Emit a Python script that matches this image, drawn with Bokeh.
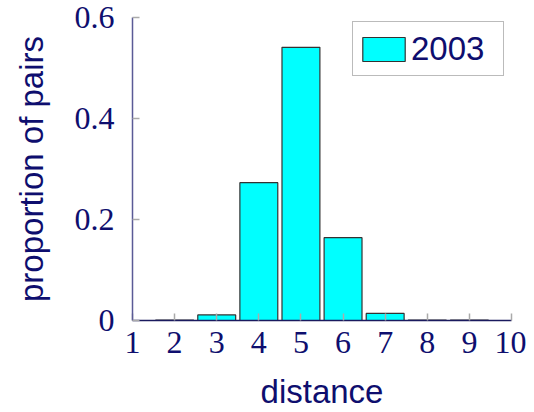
from bokeh.plotting import figure
from bokeh.models import Range1d, Legend, LegendItem, ColumnDataSource, FixedTicker
from bokeh.embed import file_html
from bokeh.resources import INLINE

distance = [2, 3, 4, 5, 6, 7, 8, 9]
proportion = [0.001, 0.011, 0.273, 0.541, 0.164, 0.014, 0.001, 0.001]
x_ticks = [1, 2, 3, 4, 5, 6, 7, 8, 9, 10]
y_ticks = [0, 0.2, 0.4, 0.6]
series_name = "2003"

NAVY = "#0e0e6e"

p = figure(width=526, height=412, output_backend="svg", toolbar_location=None,
           x_range=Range1d(1, 10), y_range=Range1d(0, 0.6),
           min_border_left=132, min_border_right=15, min_border_top=17, min_border_bottom=92)
p.outline_line_color = None
p.grid.visible = False
p.background_fill_color = "white"

src = ColumnDataSource(dict(x=distance, top=proportion))
r = p.vbar(x="x", top="top", bottom=0, width=0.9, source=src,
           fill_color="#00ffff", line_color="#333333", line_width=1.2)

for ax in (p.xaxis[0], p.yaxis[0]):
    ax.major_tick_in = 7
    ax.major_tick_out = 0
    ax.minor_tick_in = 0
    ax.minor_tick_out = 0
    ax.major_tick_line_color = "#aaaaaa"
    ax.major_tick_line_width = 1.5
    ax.major_label_text_font = "Liberation Serif"
    ax.major_label_text_font_size = "32px"
    ax.major_label_text_color = NAVY
    ax.axis_label_text_font = "Liberation Sans"
    ax.axis_label_text_font_size = "33px"
    ax.axis_label_text_font_style = "normal"
    ax.axis_label_text_color = NAVY

p.xaxis[0].ticker = FixedTicker(ticks=x_ticks)
p.yaxis[0].ticker = FixedTicker(ticks=y_ticks)
p.yaxis[0].major_label_overrides = {0: "0", 0.2: "0.2", 0.4: "0.4", 0.6: "0.6"}
p.xaxis[0].axis_line_color = "#1a1a5e"
p.yaxis[0].axis_line_color = "#5a5a96"
p.xaxis[0].axis_line_width = 1.5
p.yaxis[0].axis_line_width = 1.5
p.xaxis[0].axis_label = "distance"
p.yaxis[0].axis_label = "proportion of pairs"
p.xaxis[0].major_label_standoff = 11
p.yaxis[0].major_label_standoff = 18
p.xaxis[0].axis_label_standoff = 17
p.yaxis[0].axis_label_standoff = 22

legend = Legend(items=[LegendItem(label=series_name, renderers=[r])],
                location=(220, 244),
                border_line_color="#777777", border_line_width=1.5,
                label_text_font="Liberation Sans", label_text_font_size="33px",
                label_text_color=NAVY, glyph_width=53, glyph_height=30,
                padding=4, spacing=0, label_standoff=1, label_width=88,
                label_height=45,
                background_fill_alpha=1)
p.add_layout(legend)

open("out.html", "w").write(file_html(p, INLINE))
